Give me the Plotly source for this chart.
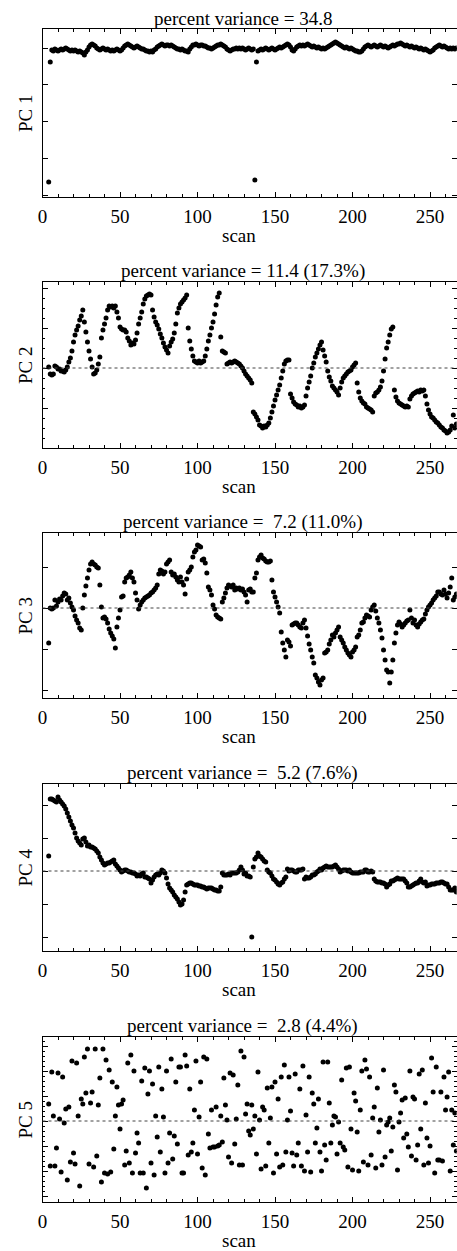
import plotly.graph_objects as go

# scan numbers shared by every panel
scan = list(range(4, 268))

# principal component scores (arbitrary units, 0 = dotted zero line)
pc1 = [15, 135, 147, 146, 148, 147, 146, 147, 148, 147,
       148, 149, 148, 147, 146, 147, 146, 147, 146, 145,
       146, 145, 144, 142, 145, 147, 150, 152, 153, 152,
       151, 149, 148, 147, 148, 149, 148, 147, 148, 147,
       146, 147, 146, 147, 148, 147, 146, 147, 149, 151,
       152, 153, 152, 151, 150, 149, 150, 151, 150, 149,
       148, 148, 147, 146, 146, 145, 146, 145, 147, 148,
       150, 151, 152, 153, 152, 151, 152, 152, 151, 152,
       151, 150, 149, 148, 148, 147, 148, 147, 146, 146,
       145, 148, 150, 152, 152, 153, 152, 151, 152, 152,
       151, 151, 150, 149, 149, 148, 149, 150, 151, 152,
       152, 153, 152, 151, 150, 148, 147, 146, 147, 148,
       148, 149, 148, 149, 148, 149, 148, 147, 148, 149,
       148, 147, 148, 17, 135, 146, 147, 148, 147, 148,
       149, 148, 147, 148, 149, 148, 147, 148, 149, 150,
       149, 150, 151, 152, 153, 152, 150, 147, 146, 148,
       150, 151, 152, 151, 152, 151, 152, 153, 152, 151,
       150, 151, 150, 149, 150, 149, 148, 149, 148, 149,
       150, 151, 152, 153, 154, 155, 154, 153, 152, 151,
       150, 149, 150, 149, 148, 149, 148, 147, 146, 146,
       145, 145, 146, 148, 150, 151, 152, 151, 150, 151,
       152, 151, 150, 151, 152, 151, 150, 151, 150, 149,
       150, 151, 152, 151, 152, 153, 153, 154, 153, 152,
       151, 152, 151, 150, 151, 150, 149, 150, 149, 148,
       149, 148, 147, 148, 147, 146, 145, 146, 147, 149,
       150, 151, 152, 151, 150, 151, 150, 149, 148, 149,
       148, 149, 148, 149]

pc2 = [1, -6, -7, -6, 2, 1, -1, -1, -3, -3,
       -4, -2, 1, 6, 10, 17, 26, 33, 38, 42,
       48, 52, 58, 46, 36, 26, 17, 9, 1, -6,
       -5, -2, 4, 11, 30, 38, 44, 50, 58, 62,
       61, 62, 60, 62, 56, 50, 41, 39, 38, 38,
       36, 30, 27, 23, 25, 24, 28, 35, 44, 50,
       56, 64, 69, 72, 73, 74, 73, 58, 51, 46,
       43, 39, 34, 30, 25, 21, 18, 15, 22, 26,
       29, 35, 44, 55, 60, 64, 66, 68, 70, 73,
       40, 27, 19, 12, 7, 6, 5, 7, 5, 6,
       7, 12, 19, 27, 33, 40, 46, 54, 63, 71,
       75, 31, 17, 16, 15, 4, 5, 6, 5, 6,
       7, 6, 5, 4, 2, 0, -3, -6, -8, -10,
       -12, -15, -44, -46, -49, -52, -57, -58, -60, -58,
       -59, -57, -55, -50, -44, -38, -32, -27, -22, -17,
       -10, -3, 4, 7, 8, 8, -26, -30, -34, -36,
       -37, -39, -38, -40, -39, -37, -28, -20, -14, -8,
       0, 5, 11, 15, 19, 23, 26, 18, 12, 6,
       -3, -9, -13, -18, -20, -22, -24, -27, -20, -14,
       -10, -8, -6, -4, -3, -2, 1, 3, 5, -15,
       -24, -30, -33, -35, -36, -39, -40, -41, -42, -44,
       -28, -25, -24, -22, -19, -13, -3, 9, 20, 26,
       33, 39, 41, -22, -29, -33, -35, -36, -37, -38,
       -39, -38, -39, -31, -28, -26, -25, -24, -23, -24,
       -22, -23, -22, -28, -36, -42, -46, -49, -50, -52,
       -54, -55, -57, -59, -60, -62, -63, -65, -64, -62,
       -58, -47, -60, -56]

pc3 = [-35, 0, -1, 0, 8, 2, 6, 9, 8, 12,
       15, 14, 8, 10, 5, 1, -2, -8, -12, -15,
       -20, -22, 0, 13, 22, 30, 38, 44, 46, 44,
       43, 41, 40, 23, 1, -10, -9, -11, -15, -21,
       -25, -28, -31, -40, -19, -10, -2, 11, 12, 26,
       30, 31, 33, 36, 30, 26, 15, 8, -1, 3,
       6, 8, 10, 11, 12, 13, 15, 16, 18, 20,
       23, 34, 38, 37, 34, 36, 44, 46, 48, 36,
       33, 34, 31, 28, 26, 31, 26, 23, 14, 29,
       36, 38, 41, 51, 56, 58, 63, 62, 61, 48,
       49, 45, 35, 21, 18, 13, 3, -1, -7, -9,
       -10, -11, 6, 10, 15, 20, 23, 22, 21, 23,
       18, 20, 19, 20, 18, 19, 16, 13, 6, 18,
       19, 16, 16, 30, 35, 48, 51, 53, 50, 49,
       47, 46, 46, 47, 28, 16, 11, 6, 1, -5,
       -24, -35, -42, -49, -32, -34, -38, -17, -16, -15,
       -15, -17, -19, -20, -15, -12, -20, -28, -36, -42,
       -49, -55, -67, -70, -74, -77, -72, -70, -45, -44,
       -42, -36, -32, -27, -29, -25, -22, -19, -29, -32,
       -35, -39, -42, -45, -47, -49, -44, -42, -39, -29,
       -27, -22, -15, -14, -10, -7, -8, -9, -2, 1,
       3, -3, -10, -15, -22, -30, -42, -52, -62, -64,
       -75, -64, -52, -35, -25, -17, -14, -16, -19, -17,
       -15, -13, -12, -2, -10, -15, -12, -17, -19, -16,
       -14, -12, -11, -6, -2, 1, 3, 5, 8, 10,
       12, 16, 16, 14, 13, 18, 14, 10, 15, 21,
       30, 8, 11, 14]

pc4 = [15, 72, 72, 71, 70, 69, 74, 71, 69, 67,
       65, 62, 58, 54, 50, 46, 43, 38, 33, 30,
       28, 26, 32, 33, 29, 25, 26, 24, 24, 23,
       22, 20, 18, 14, 11, 8, 6, 7, 8, 8,
       9, 10, 11, 7, 5, 3, 1, -1, 0, 1,
       1, 0, -1, -1, -2, -2, -3, -5, -4, -5,
       -3, -2, -6, -6, -7, -8, -12, -9, -6, -4,
       -3, -4, -2, 1, 0, -2, -7, -13, -17, -19,
       -21, -24, -26, -28, -31, -34, -33, -29, -21, -14,
       -13, -12, -12, -13, -14, -14, -14, -15, -15, -16,
       -16, -17, -18, -17, -17, -17, -18, -19, -19, -20,
       -20, -16, -2, -4, -4, -4, -3, -4, -2, -2,
       -2, -2, -1, 1, 4, 1, -3, -2, -5, -5,
       -6, -66, 4, 12, 14, 18, 15, 14, 12, 10,
       9, 1, -1, -2, -5, -8, -9, -11, -13, -14,
       -12, -11, -8, -6, 2, 0, 1, 1, 0, -1,
       -1, 1, 1, 1, 2, -8, -6, -7, -7, -6,
       -4, -4, -3, -1, 0, 2, 1, 3, 4, 5,
       4, 4, 4, 4, 5, 6, 4, 2, -1, 0,
       1, 1, 1, 0, 1, -1, -2, -2, -2, -2,
       -2, -1, -1, -1, 1, 1, -1, -1, 0, -1,
       -8, -10, -11, -11, -11, -12, -12, -13, -16, -14,
       -13, -10, -10, -9, -8, -7, -8, -8, -8, -8,
       -10, -12, -16, -16, -15, -14, -13, -12, -12, -10,
       -8, -11, -12, -11, -15, -14, -14, -13, -13, -13,
       -12, -12, -12, -11, -11, -12, -13, -13, -16, -19,
       -19, -19, -17, -21]

pc5 = [17, -45, 49, 5, -45, -27, 48, 2, -51, 44,
       -2, 12, -59, 14, -41, 60, -32, -43, 58, 5,
       -65, 22, 17, 64, 28, 72, -43, 18, 29, -46,
       72, -35, 16, 43, -61, 72, -52, 61, -53, 51,
       -51, 39, -28, 5, 34, 16, -8, 17, 21, -44,
       -30, 58, -42, 66, -52, 50, -32, -12, -22, -52,
       40, -52, 53, -67, 27, 50, -42, 37, -54, 5,
       -16, 54, -31, 32, 4, -52, 50, -42, -12, 62,
       -38, -15, 39, -23, 54, 54, -52, -52, 66, 55,
       -34, 32, -31, -22, 11, 60, -33, 4, 39, -47,
       64, -54, 62, -13, -27, 11, -26, -26, 14, -25,
       -24, 5, -21, 43, 16, 1, -36, 48, -42, 46,
       -23, 2, 36, -44, 70, -44, 64, 7, 17, -10,
       -14, 16, -8, 5, -33, 49, 1, -48, 14, 11,
       -45, 33, -22, 3, 34, -52, 39, -33, 22, -46,
       44, -44, 56, -31, 1, 44, 10, -32, -45, 47,
       -34, -22, 32, -45, 55, -50, 6, -31, 44, -51,
       28, 17, -22, -7, 22, -31, -50, 59, -24, -39,
       59, 18, -22, -4, 5, 4, -33, -1, -22, 41,
       -26, -29, 53, -46, 54, -8, -49, 28, 20, -11,
       -50, 11, 50, -41, 61, 52, -44, 44, -34, 3,
       14, -47, 33, -11, 1, -44, 51, -36, -4, -1,
       3, -30, -6, 36, 29, -49, -1, 8, 21, -17,
       23, -13, -26, 50, -35, 24, 22, -39, -24, 47,
       -8, 51, -44, 18, -17, -42, -25, 63, 29, -52,
       54, -39, -39, 29, -40, 44, 11, 24, 49, -50,
       11, -24, 8, -30]

titles = ["percent variance = 34.8",
          "percent variance = 11.4 (17.3%)",
          "percent variance = \u00a07.2 (11.0%)",
          "percent variance = \u00a05.2 (7.6%)",
          "percent variance = \u00a02.8 (4.4%)"]
labels = ["PC 1", "PC 2", "PC 3", "PC 4", "PC 5"]
series = [pc1, pc2, pc3, pc4, pc5]

# layout (pixels)
W, H = 457, 1251
frames = [(29, 197), (282, 448), (533, 698), (784, 951), (1037, 1202)]
yranges = [(0, 168), (-80, 86), (-90, 75), (-80, 87), (-81, 84)]
ytick = [(2, 36.7), (0, 40), (0, 41), (0, 33), (0, 25)]
FONT = "Liberation Serif"

fig = go.Figure()
annotations = []
shapes = []

for i, vals in enumerate(series):
    assert len(vals) == len(scan), (i, len(vals))
    n = "" if i == 0 else str(i + 1)
    top, bot = frames[i]
    fig.add_trace(go.Scatter(x=scan, y=vals, mode="markers",
                             marker=dict(color="black", size=5),
                             xaxis="x" + n, yaxis="y" + n,
                             showlegend=False, hoverinfo="x+y"))
    axis_common = dict(showline=True, linecolor="black", linewidth=1,
                       mirror="allticks", ticks="inside", tickcolor="black",
                       showgrid=False, zeroline=False, automargin=False)
    fig.layout["xaxis" + n] = dict(
        axis_common, domain=[42.5 / W, 456.7 / W], range=[0, 267.2],
        anchor="y" + n, tick0=0, dtick=50, ticklen=5,
        ticklabelstandoff=2,
        tickfont=dict(family=FONT, size=19, color="black"),
        minor=dict(dtick=10, ticks="inside", ticklen=3, tickcolor="black"))
    fig.layout["yaxis" + n] = dict(
        axis_common, domain=[1 - bot / H, 1 - top / H], range=list(yranges[i]),
        anchor="x" + n, tick0=ytick[i][0], dtick=ytick[i][1], ticklen=5,
        showticklabels=False,
        minor=dict(nticks=5, ticks="inside", ticklen=2.5, tickcolor="black"))

    annotations.append(dict(text=titles[i], x=243 / W, y=1 - (top - 11) / H,
                            xref="paper", yref="paper", showarrow=False,
                            xanchor="center", yanchor="middle",
                            font=dict(family=FONT, size=19, color="black")))
    annotations.append(dict(text=labels[i], x=25 / W, y=1 - (top + bot) / 2 / H,
                            xref="paper", yref="paper", showarrow=False,
                            textangle=-90, xanchor="center", yanchor="middle",
                            font=dict(family=FONT, size=19, color="black")))
    annotations.append(dict(text="scan", x=239 / W, y=1 - (bot + 38) / H,
                            xref="paper", yref="paper", showarrow=False,
                            xanchor="center", yanchor="middle",
                            font=dict(family=FONT, size=19, color="black")))
    if i > 0:
        shapes.append(dict(type="line", xref="x" + n + " domain", yref="y" + n,
                           x0=0, x1=1, y0=0, y1=0,
                           line=dict(color="#444", width=1, dash="dot")))

fig.update_layout(width=W, height=H, template="none",
                  margin=dict(l=0, r=0, t=0, b=0),
                  paper_bgcolor="white", plot_bgcolor="white",
                  annotations=annotations, shapes=shapes)

# drop the browser's default page margin so the figure fills the window
fig.write_html("out.html", config={"displayModeBar": False},
               post_script="document.body.style.margin='0';"
                           "document.body.style.overflow='hidden';")
